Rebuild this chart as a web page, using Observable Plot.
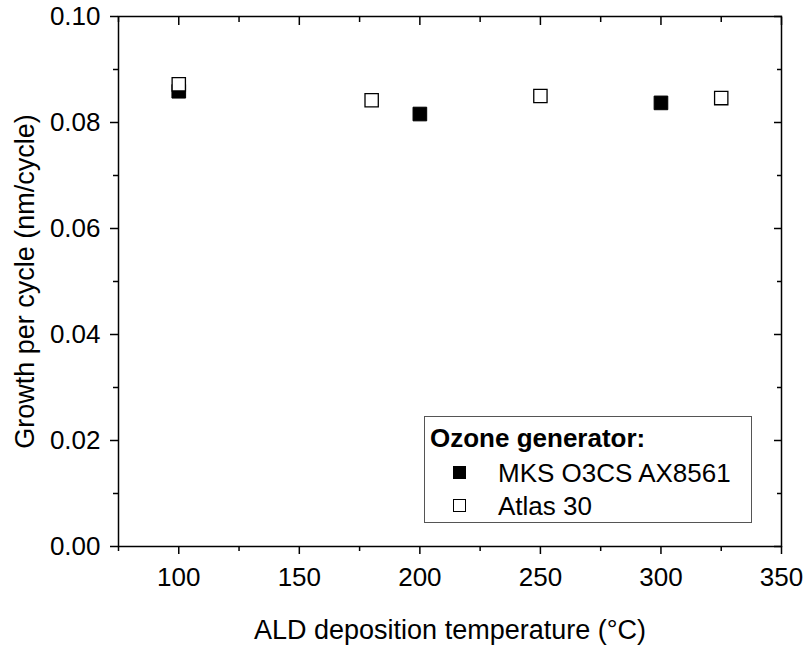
<!DOCTYPE html>
<html>
<head>
<meta charset="utf-8">
<script src="https://cdn.jsdelivr.net/npm/d3@7"></script>
<script src="https://cdn.jsdelivr.net/npm/@observablehq/plot@0.6"></script>
<style>
  body { margin: 0; background: #fff; font-family: "Liberation Sans", Arial, sans-serif; }
  #wrap { position: relative; width: 806px; height: 645px; }
  #legend { position: absolute; left: 424px; top: 416px; width: 328px; height: 107px;
            border: 1px solid #555; box-sizing: border-box; background: #fff; font-size: 26px; color: #000; }
  #legend .ttl { position: absolute; left: 5px; top: 6px; font-weight: bold; line-height: 30px; white-space: nowrap; }
  #legend .row { position: absolute; left: 0; height: 30px; line-height: 30px; white-space: nowrap; }
  #legend .sw { position: absolute; left: 28px; top: 8px; width: 13px; height: 13px; box-sizing: border-box; border: 1px solid #000; }
  #legend .lb { position: absolute; left: 73px; top: 0; }
</style>
</head>
<body>
<div id="wrap">
  <div id="chart"></div>
  <div id="legend"></div>
</div>
<script>
// Data
const seriesNames = ["MKS O3CS AX8561", "Atlas 30"];
const seriesFills = ["black", "white"];
const legendTitle = "Ozone generator:";

const mksTemp = [100, 200, 300];
const mksGpc  = [0.0859, 0.0816, 0.0837];

const atlasTemp = [100, 180, 250, 325];
const atlasGpc  = [0.0872, 0.0842, 0.0850, 0.0846];

const xMajor = [100, 150, 200, 250, 300, 350];
const xMinor = [75, 125, 175, 225, 275, 325];
const yMajor = [0.00, 0.02, 0.04, 0.06, 0.08, 0.10];
const yMinor = [0.01, 0.03, 0.05, 0.07, 0.09];

const xTitle = "ALD deposition temperature (°C)";
const yTitle = "Growth per cycle (nm/cycle)";

const mks = mksTemp.map((t, i) => ({t, g: mksGpc[i]}));
const atlas = atlasTemp.map((t, i) => ({t, g: atlasGpc[i]}));

const blank = () => "";
const sw = 1.5;

const chart = Plot.plot({
  width: 806,
  height: 645,
  marginLeft: 118,
  marginRight: 25,
  marginTop: 16,
  marginBottom: 99,
  style: {fontFamily: "'Liberation Sans', Arial, sans-serif", fontSize: "26px", color: "black", background: "white"},
  x: {domain: [75, 350]},
  y: {domain: [0, 0.1]},
  marks: [
    // bottom axis (outward ticks)
    Plot.axisX(xMajor, {anchor: "bottom", tickSize: 8, tickPadding: 13, strokeWidth: sw, fontSize: 26,
      tickFormat: d => String(d), label: null}),
    Plot.axisX({anchor: "bottom", ticks: [], label: xTitle, labelAnchor: "center", labelOffset: 92, labelArrow: "none", fontSize: 27}),
    Plot.axisX(xMinor, {anchor: "bottom", tickSize: 5, strokeWidth: sw, tickFormat: blank, label: null}),
    // top axis (inward ticks)
    Plot.axisX(xMajor, {anchor: "top", tickSize: -8, strokeWidth: sw, tickFormat: blank, label: null}),
    Plot.axisX(xMinor, {anchor: "top", tickSize: -5, strokeWidth: sw, tickFormat: blank, label: null}),
    // left axis (outward ticks)
    Plot.axisY(yMajor, {anchor: "left", tickSize: 8, tickPadding: 10, strokeWidth: sw, fontSize: 26,
      tickFormat: d3.format(".2f"), label: null}),
    Plot.axisY({anchor: "left", ticks: [], label: yTitle, labelAnchor: "center", labelOffset: 104, labelArrow: "none", fontSize: 27}),
    Plot.axisY(yMinor, {anchor: "left", tickSize: 5, strokeWidth: sw, tickFormat: blank, label: null}),
    // right axis (inward ticks)
    Plot.axisY(yMajor, {anchor: "right", tickSize: -8, strokeWidth: sw, tickFormat: blank, label: null}),
    Plot.axisY(yMinor, {anchor: "right", tickSize: -5, strokeWidth: sw, tickFormat: blank, label: null}),
    Plot.frame({stroke: "black", strokeWidth: sw}),
    Plot.dot(mks, {x: "t", y: "g", symbol: "square", r: 7.7, fill: seriesFills[0], stroke: "black", strokeWidth: 1}),
    Plot.dot(atlas, {x: "t", y: "g", symbol: "square", r: 7.5, fill: seriesFills[1], stroke: "black", strokeWidth: 1.3})
  ]
});
document.getElementById("chart").appendChild(chart);

// Legend (in-plot box)
const legend = document.getElementById("legend");
const ttl = document.createElement("div");
ttl.className = "ttl";
ttl.textContent = legendTitle;
legend.appendChild(ttl);
const rowTops = [41, 74];
seriesNames.forEach((name, i) => {
  const row = document.createElement("div");
  row.className = "row";
  row.style.top = rowTops[i] + "px";
  const s = document.createElement("span");
  s.className = "sw";
  s.style.background = seriesFills[i];
  const l = document.createElement("span");
  l.className = "lb";
  l.textContent = name;
  row.appendChild(s);
  row.appendChild(l);
  legend.appendChild(row);
});
</script>
</body>
</html>
